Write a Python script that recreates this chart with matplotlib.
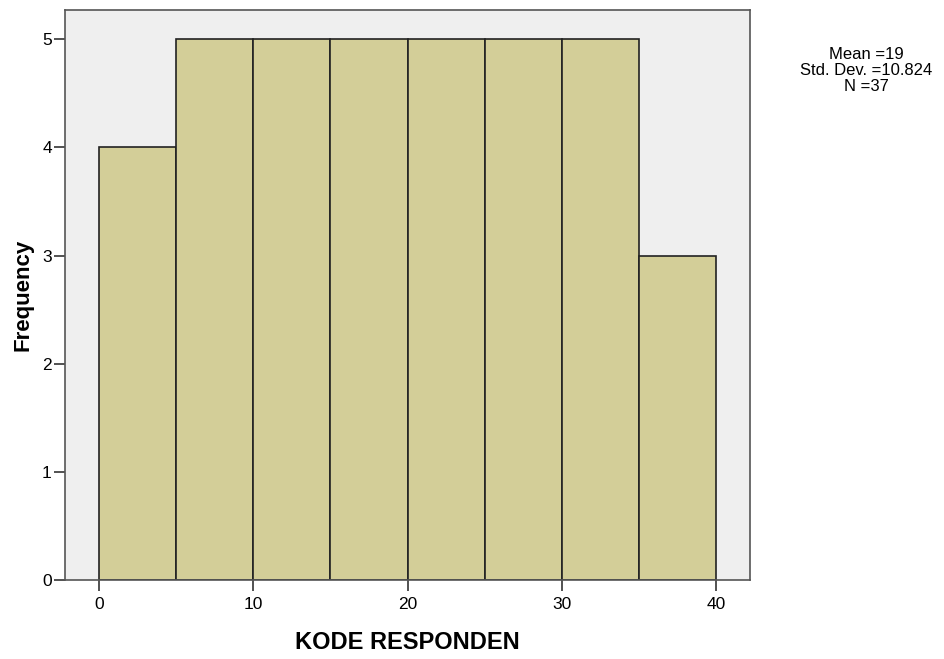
import matplotlib.pyplot as plt

plt.rcParams['font.family'] = ['Liberation Sans', 'DejaVu Sans']

# histogram data
bin_edges = [0, 5, 10, 15, 20, 25, 30, 35, 40]
counts = [4, 5, 5, 5, 5, 5, 5, 3]
x_ticks = [0, 10, 20, 30, 40]
y_ticks = [0, 1, 2, 3, 4, 5]
stats_text = "Mean =19\nStd. Dev. =10.824\nN =37"


def main():
    fig = plt.figure(figsize=(9.44, 6.59), dpi=100)
    ax = fig.add_axes([0.0689, 0.1199, 0.7256, 0.8649])
    ax.set_facecolor("#EFEFEF")

    lefts = bin_edges[:-1]
    widths = [b - a for a, b in zip(bin_edges[:-1], bin_edges[1:])]
    ax.bar(lefts, counts, width=widths, align="edge", color="#D3CE98",
           edgecolor="#222222", linewidth=1.2)

    ax.set_xlim(-2.2, 42.2)
    ax.set_ylim(0, 5.27)
    ax.set_xticks(x_ticks)
    ax.set_yticks(y_ticks)
    ax.tick_params(direction="out", length=8, width=1.2, color="#333333",
                   labelsize=12.5, pad=1.5)
    ax.tick_params(axis="x", pad=4)
    for s in ax.spines.values():
        s.set_color("#555555")
        s.set_linewidth(1.2)

    ax.set_xlabel("KODE RESPONDEN", fontsize=17, fontweight="bold", labelpad=14)
    ax.set_ylabel("Frequency", fontsize=16, fontweight="bold")
    ax.yaxis.set_label_coords(-0.046, 0.5)

    fig.text(0.918, 0.893, stats_text, ha="center", va="center",
             fontsize=12, linespacing=1.1)

    fig.savefig("out.png", dpi=100)


if __name__ == "__main__":
    main()
